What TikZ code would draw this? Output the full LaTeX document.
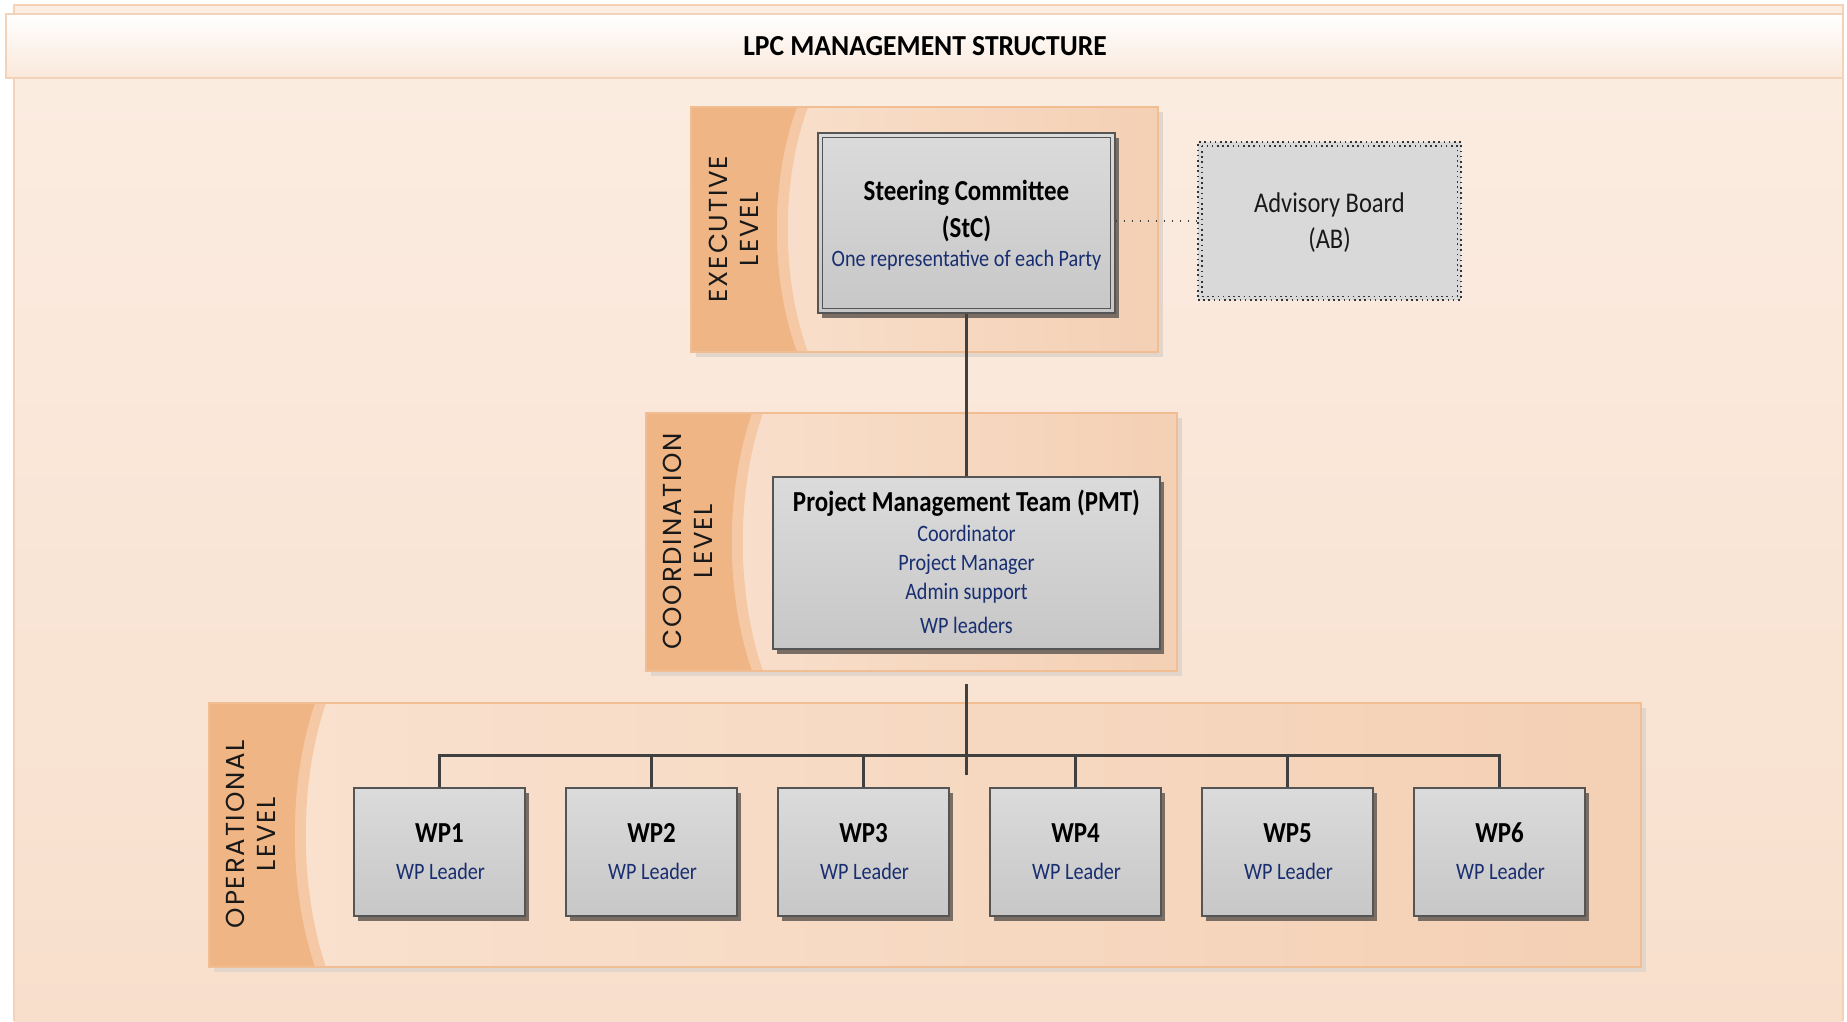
\documentclass[tikz,border=0pt]{standalone}
\usepackage{fontspec}
\setmainfont{Carlito}[FakeStretch=0.86]
\newfontfamily\titlefont{Carlito}[FakeStretch=0.95]
\newfontfamily\lvlfont{Poppins}[LetterSpace=7]
\usetikzlibrary{calc,shadows}
\definecolor{bgTop}{RGB}{251,237,226}
\definecolor{bgBot}{RGB}{248,223,204}
\definecolor{bgLine}{RGB}{243,210,184}
\definecolor{bandL}{RGB}{249,226,208}
\definecolor{bandR}{RGB}{244,208,180}
\definecolor{bandDark}{RGB}{239,181,132}
\definecolor{bandStripe}{RGB}{245,201,166}
\definecolor{bandLine}{RGB}{241,190,148}
\definecolor{bandShadow}{RGB}{226,214,204}
\definecolor{navy}{RGB}{24,46,112}
\definecolor{boxTop}{RGB}{219,219,219}
\definecolor{boxBot}{RGB}{199,199,199}
\definecolor{boxLine}{RGB}{85,85,85}
\definecolor{boxShadow}{RGB}{122,110,100}
\definecolor{connCol}{RGB}{64,64,64}
\definecolor{lvlText}{RGB}{25,25,25}
\definecolor{abFill}{RGB}{217,217,217}
\newcommand\levelband[4]{%
  \fill[bandShadow] (#1+5,#2+5) rectangle (#3+5,#4+5);
  \shade[left color=bandL,right color=bandR] (#1,#2) rectangle (#3,#4);
  \fill[bandStripe] (#1,#2) -- (#1+117,#2) .. controls (#1+90,{#2+0.3*(#4-#2)}) and (#1+90,{#4-0.3*(#4-#2)}) .. (#1+117,#4) -- (#1,#4) -- cycle;
  \fill[bandDark] (#1,#2) -- (#1+106,#2) .. controls (#1+79,{#2+0.3*(#4-#2)}) and (#1+79,{#4-0.3*(#4-#2)}) .. (#1+106,#4) -- (#1,#4) -- cycle;
  \draw[bandLine,line width=1.2] (#1,#2) rectangle (#3,#4);
}
\begin{document}
\begin{tikzpicture}[x=1pt,y=-1pt,
  box/.style={draw=boxLine,line width=1.2,top color=boxTop,bottom color=boxBot,inner sep=0pt,
    drop shadow={shadow xshift=4pt,shadow yshift=-5pt,fill=boxShadow,opacity=1}},
  abbox/.style={draw=black!80,fill=abFill,line width=1.6,dash pattern=on 1.6pt off 3.6pt,inner sep=0pt},
  abinner/.style={draw=black!80,line width=1.6,dash pattern=on 1.6pt off 3.6pt},
  bold/.style={anchor=base,font=\bfseries\fontsize{29}{34}\selectfont,text=black,inner sep=0pt},
  sub/.style={anchor=base,font=\fontsize{23.5}{28}\selectfont,text=navy,inner sep=0pt},
  abtxt/.style={anchor=base,font=\fontsize{28.5}{34}\selectfont,text=black!90,inner sep=0pt},
  lvl/.style={rotate=90,align=center,inner sep=0pt,text=lvlText,font=\lvlfont\fontsize{26}{31.5}\selectfont},
  conn/.style={draw=connCol,line width=2.5,line join=miter},
  dots/.style={draw=connCol,line width=1.8,dash pattern=on 1.8pt off 6.2pt}]
\useasboundingbox (0,0) rectangle (1847,1021);
\fill[white] (0,0) rectangle (1847,1021);
% background
\shade[top color=bgTop,bottom color=bgBot] (14,5) rectangle (1843,1021);
\draw[bgLine,line width=1.2] (14,1021) -- (14,5) -- (1843,5) -- (1843,1021);
% title band
\shade[top color=white,bottom color=bgTop!85!bandR] (6,14) rectangle (1843,78);
\draw[bgLine,line width=1.5] (6,14) rectangle (1843,78);
\node[anchor=base,inner sep=0pt,font=\titlefont\bfseries\fontsize{29}{34}\selectfont] (title) at (925,55) {LPC MANAGEMENT STRUCTURE};
% level bands
\levelband{691}{107}{1158}{352}
\levelband{646}{413}{1177}{671}
\levelband{209}{703}{1641}{967}
\node[lvl] (lvexec) at (734,229) {EXECUTIVE\\LEVEL};
\node[lvl] (lvcoord) at (688,541) {COORDINATION\\LEVEL};
\node[lvl] (lvop) at (251,834) {OPERATIONAL\\LEVEL};
% steering committee
\node[box,minimum width=297,minimum height=180] (stc) at (966.5,223) {};
\draw[boxLine,line width=1.1] ($(stc.north west)+(5,5)$) rectangle ($(stc.south east)+(-5,-5)$);
\node[bold] (stc1) at (966.5,200) {Steering Committee};
\node[bold] (stc2) at (966.5,237) {(StC)};
\node[sub] (stc3) at (966.5,266.5) {One representative of each Party};
% advisory board
\node[abbox,minimum width=263,minimum height=158] (ab) at (1329.5,221) {};
\draw[abinner] ($(ab.north west)+(4.5,4.5)$) rectangle ($(ab.south east)+(-4.5,-4.5)$);
\node[abtxt] (ab1) at (1329.5,212.3) {Advisory Board};
\node[abtxt] (ab2) at (1329.5,248.3) {(AB)};
\draw[dots] (ab.west -| stc.east) -- (ab.west);
% project management team
\node[box,minimum width=387,minimum height=172] (pmt) at (966.5,563) {};
\node[bold] (pmt1) at (966.5,511) {Project Management Team (PMT)};
\node[sub] (pmt2) at (966.5,541.7) {Coordinator};
\node[sub] (pmt3) at (966.5,570.7) {Project Manager};
\node[sub] (pmt4) at (966.5,599.3) {Admin support};
\node[sub] (pmt5) at (966.5,633.3) {WP leaders};
\draw[conn] (stc.south) -- (pmt.north);
% work packages
\foreach \i in {1,...,6}{
  \node[box,minimum width=171,minimum height=128] (wp\i) at ({439.5+212*(\i-1)},852) {};
  \node[bold] (wpa\i) at ({439.5+212*(\i-1)},842.7) {WP\i};
  \node[sub] (wpb\i) at ({440.5+212*(\i-1)},879) {WP Leader};
}
\coordinate (pmtout) at (966.5,684);
\coordinate (bus) at (966.5,755.5);
\coordinate (busend) at (966.5,775);
\draw[conn] (pmtout) -- (busend);
\draw[conn] (wp1.north) -- (wp1.north |- bus) -- (wp6.north |- bus) -- (wp6.north);
\foreach \i in {2,...,5}{
  \draw[conn] (wp\i.north) -- (wp\i.north |- bus);
}
\end{tikzpicture}
\end{document}
